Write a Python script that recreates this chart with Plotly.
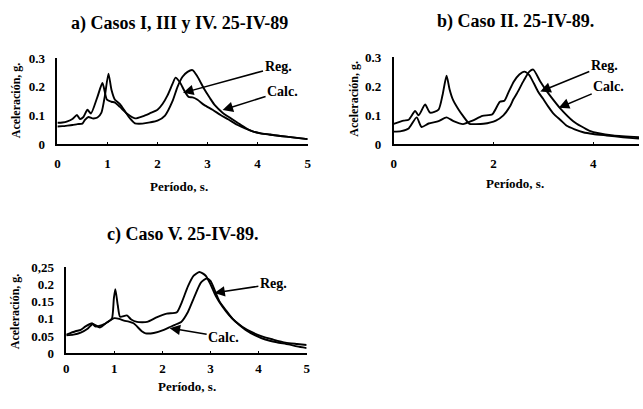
import plotly.graph_objects as go

# ---------------- data ----------------
# Panel a) Casos I, III y IV
a_reg_x = [0, 0.1, 0.2, 0.3, 0.39, 0.45, 0.52, 0.6, 0.67, 0.8, 0.9, 0.99, 1.08, 1.15, 1.25, 1.4, 1.55, 1.7, 1.85, 2.0, 2.1, 2.2, 2.3, 2.36, 2.45, 2.54, 2.62, 2.7, 2.8, 2.93, 3.1, 3.26, 3.42, 3.59, 3.75, 3.9, 4.05, 4.25, 4.45, 4.7, 5.0]
a_reg_y = [0.075, 0.076, 0.08, 0.088, 0.102, 0.088, 0.095, 0.12, 0.107, 0.165, 0.213, 0.155, 0.148, 0.145, 0.13, 0.105, 0.09, 0.097, 0.108, 0.12, 0.14, 0.17, 0.21, 0.232, 0.215, 0.185, 0.165, 0.163, 0.155, 0.137, 0.12, 0.102, 0.086, 0.068, 0.055, 0.045, 0.039, 0.034, 0.029, 0.024, 0.018]
a_calc_x = [0, 0.1, 0.2, 0.3, 0.4, 0.5, 0.55, 0.62, 0.7, 0.8, 0.88, 0.95, 1.02, 1.08, 1.15, 1.25, 1.35, 1.45, 1.55, 1.7, 1.85, 2.0, 2.15, 2.3, 2.4, 2.5, 2.6, 2.7, 2.8, 2.93, 3.05, 3.15, 3.3, 3.45, 3.6, 3.75, 3.85, 4.05, 4.25, 4.45, 4.7, 5.0]
a_calc_y = [0.062, 0.063, 0.065, 0.067, 0.07, 0.072, 0.085, 0.095, 0.09, 0.093, 0.11, 0.17, 0.246, 0.19, 0.155, 0.14, 0.115, 0.09, 0.073, 0.072, 0.076, 0.082, 0.1, 0.15, 0.2, 0.235, 0.252, 0.258, 0.235, 0.193, 0.16, 0.135, 0.11, 0.092, 0.075, 0.058, 0.048, 0.038, 0.033, 0.029, 0.024, 0.018]

# Panel b) Caso II
b_reg_x = [0, 0.15, 0.3, 0.46, 0.56, 0.7, 0.9, 1.06, 1.2, 1.39, 1.58, 1.78, 1.98, 2.13, 2.22, 2.3, 2.41, 2.52, 2.62, 2.72, 2.81, 2.9, 3.0, 3.1, 3.2, 3.35, 3.47, 3.63, 3.8, 4.0, 4.27, 4.6, 4.92]
b_reg_y = [0.044, 0.046, 0.055, 0.093, 0.06, 0.072, 0.08, 0.093, 0.08, 0.07, 0.082, 0.098, 0.104, 0.147, 0.15, 0.178, 0.216, 0.24, 0.25, 0.238, 0.21, 0.18, 0.156, 0.13, 0.107, 0.083, 0.064, 0.052, 0.042, 0.036, 0.031, 0.025, 0.02]
b_calc_x = [0, 0.2, 0.3, 0.43, 0.5, 0.63, 0.73, 0.9, 0.98, 1.06, 1.12, 1.19, 1.3, 1.39, 1.52, 1.65, 1.8, 2.05, 2.2, 2.33, 2.4, 2.48, 2.61, 2.72, 2.8, 2.94, 3.04, 3.14, 3.34, 3.6, 3.93, 4.4, 4.92]
b_calc_y = [0.071, 0.082, 0.085, 0.115, 0.1, 0.137, 0.109, 0.12, 0.17, 0.236, 0.19, 0.153, 0.12, 0.098, 0.071, 0.07, 0.071, 0.082, 0.1, 0.13, 0.155, 0.178, 0.22, 0.25, 0.257, 0.216, 0.19, 0.167, 0.124, 0.08, 0.047, 0.031, 0.025]

# Panel c) Caso V
c_reg_x = [0, 0.19, 0.3, 0.4, 0.54, 0.6, 0.74, 0.88, 0.95, 0.99, 1.02, 1.07, 1.12, 1.26, 1.35, 1.47, 1.68, 1.89, 2.09, 2.3, 2.4, 2.53, 2.65, 2.77, 2.9, 3.0, 3.11, 3.25, 3.39, 3.52, 3.66, 3.85, 4.07, 4.3, 4.56, 4.8, 5.0]
c_reg_y = [0.054, 0.064, 0.068, 0.078, 0.087, 0.078, 0.082, 0.092, 0.101, 0.16, 0.186, 0.14, 0.106, 0.11, 0.098, 0.091, 0.091, 0.105, 0.115, 0.119, 0.147, 0.194, 0.225, 0.236, 0.225, 0.2, 0.166, 0.135, 0.11, 0.092, 0.077, 0.062, 0.049, 0.04, 0.031, 0.027, 0.024]
c_calc_x = [0, 0.15, 0.3, 0.45, 0.55, 0.7, 0.85, 1.0, 1.1, 1.2, 1.3, 1.4, 1.57, 1.65, 1.82, 2.03, 2.17, 2.3, 2.39, 2.53, 2.67, 2.8, 2.92, 3.0, 3.18, 3.32, 3.46, 3.6, 3.73, 3.93, 4.14, 4.38, 4.62, 4.8, 5.0]
c_calc_y = [0.052, 0.054, 0.06, 0.072, 0.085, 0.075, 0.09, 0.102, 0.1, 0.095, 0.092, 0.087, 0.064, 0.058, 0.059, 0.068, 0.077, 0.085, 0.091, 0.12, 0.166, 0.205, 0.217, 0.21, 0.152, 0.125, 0.1, 0.082, 0.068, 0.052, 0.04, 0.032, 0.026, 0.02, 0.015]

titles = ["a) Casos I, III y IV. 25-IV-89", "b) Caso II. 25-IV-89.", "c) Caso V. 25-IV-89."]
xlabel = "Período, s."
ylabel = "Aceleración, g."
a_yticks = [0, 0.1, 0.2, 0.3]
a_yticktext = ["0", "0.1", "0.2", "0.3"]
c_yticks = [0, 0.05, 0.1, 0.15, 0.2, 0.25]
c_yticktext = ["0", "0.05", "0.1", "0.15", "0.2", "0,25"]

# ---------------- figure ----------------
W, H = 643, 409
FONT = "Times New Roman, Liberation Serif, serif"
line = dict(color="black", width=1.9)

def px(x):
    return x / W

def py(y):
    return 1 - y / H

fig = go.Figure()
series = [
    (a_reg_x, a_reg_y, "x", "y"), (a_calc_x, a_calc_y, "x", "y"),
    (b_reg_x, b_reg_y, "x2", "y2"), (b_calc_x, b_calc_y, "x2", "y2"),
    (c_reg_x, c_reg_y, "x3", "y3"), (c_calc_x, c_calc_y, "x3", "y3"),
]
for xs, ys, xa, ya in series:
    fig.add_trace(go.Scatter(x=xs, y=ys, mode="lines", line=dict(line, shape="spline", smoothing=0.6),
                             xaxis=xa, yaxis=ya, showlegend=False))

tickfont = dict(family=FONT, size=13, color="black", weight="bold")
xcommon = dict(showline=True, linecolor="black", linewidth=1.5, showgrid=False,
               zeroline=False, ticks="inside", ticklen=3, tickcolor="black",
               tickfont=tickfont, ticklabelstandoff=6)
ycommon = dict(showline=True, linecolor="black", linewidth=1.5, showgrid=False,
               zeroline=False, ticks="", tickfont=tickfont, ticklabelstandoff=8)

fig.update_layout(
    width=W, height=H, margin=dict(l=0, r=0, t=0, b=0),
    paper_bgcolor="white", plot_bgcolor="white",
    font=dict(family=FONT),
    xaxis=dict(xcommon, domain=[px(55), px(308)], range=[0, 5], tickvals=[0, 1, 2, 3, 4, 5], anchor="y"),
    yaxis=dict(ycommon, domain=[py(142.5), py(53)], range=[0, 0.3], tickvals=a_yticks, ticktext=a_yticktext, anchor="x"),
    xaxis2=dict(xcommon, domain=[px(395), 1.0], range=[0, 4.92], tickvals=[0, 2, 4], anchor="y2"),
    yaxis2=dict(ycommon, domain=[py(142.7), py(52)], range=[0, 0.3], tickvals=a_yticks, ticktext=a_yticktext, anchor="x2"),
    xaxis3=dict(xcommon, domain=[px(64), px(307)], range=[0, 5], tickvals=[0, 1, 2, 3, 4, 5], anchor="y3", ticklabelstandoff=2),
    yaxis3=dict(ycommon, domain=[py(359.5), py(270)], range=[0, 0.25], tickvals=c_yticks, ticktext=c_yticktext, anchor="x3"),
)

def bold(size):
    return dict(family=FONT, size=size, color="black", weight="bold")

texts = [
    (titles[0], 178, 17, 18, 0), (titles[1], 518, 15, 18, 0), (titles[2], 182, 236, 18, 0),
    (xlabel, 178, 186, 13, 0), (xlabel, 518, 183, 13, 0), (xlabel, 186, 394, 13, 0),
    (ylabel, 14, 97, 12, -90), (ylabel, 354, 95, 12, -90), (ylabel, 13, 316, 12, -90),
]
for t, x, y, s, ang in texts:
    fig.add_annotation(text=t, x=px(x), y=py(y), xref="paper", yref="paper",
                       showarrow=False, font=bold(s), textangle=ang,
                       xanchor="center", yanchor="middle", borderpad=0)

arrows = [
    ("Reg.", 2.51, 0.179, 95, -26, "x", "y"),
    ("Calc.", 3.30, 0.119, 60, -19, "x", "y"),
    ("Reg.", 2.94, 0.182, 64, -26, "x2", "y2"),
    ("Calc.", 3.31, 0.126, 50, -21, "x2", "y2"),
    ("Reg.", 3.08, 0.175, 59, -9, "x3", "y3"),
    ("Calc.", 2.15, 0.073, 54, 9, "x3", "y3"),
]
for t, x, y, ax, ay, xr, yr in arrows:
    fig.add_annotation(text=t, x=x, y=y, xref=xr, yref=yr, showarrow=True,
                       ax=ax, ay=ay, arrowhead=2, arrowsize=1.4, arrowwidth=1.5,
                       arrowcolor="black", font=bold(14))

fig.write_html("out.html")
